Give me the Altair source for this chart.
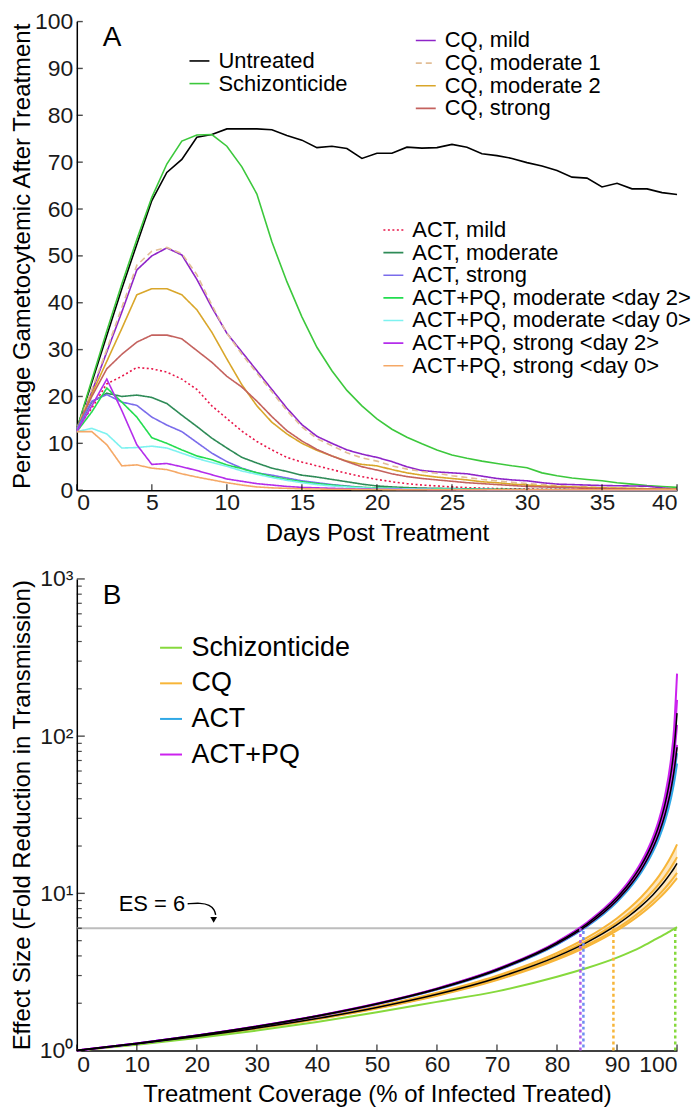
import altair as alt
import pandas as pd

FONT = "Liberation Sans"

# ---------------- Panel A data ----------------
days = list(range(41))
untreated = [13, 23, 33, 43, 52.5, 61.8, 67.8, 70.6, 75.3, 75.9, 77.1, 77.1, 77.1, 76.9, 75.7,
             74.7, 73.1, 73.4, 72.9, 70.8, 71.9, 71.9, 73.2, 73.0, 73.1, 73.8, 73.2, 71.8, 71.4,
             70.8, 69.9, 69.2, 68.2, 66.8, 66.6, 64.7, 65.5, 64.3, 64.3, 63.5, 63.1]
schizonticide = [13, 23.5, 34, 44, 53.5, 62.5, 69.6, 74.5, 75.8, 75.9, 73.4, 69, 63.2, 53, 44.5,
                 37, 30.5, 25.5, 21.3, 18, 15.2, 13.0, 11.3, 9.9, 8.6, 7.5, 6.8, 6.2, 5.7, 5.2,
                 4.8, 3.7, 3.1, 2.6, 2.3, 2.0, 1.6, 1.3, 1.0, 0.8, 0.6]
cq_mild = [13, 21, 29.5, 38, 47, 50, 51.7, 50.2, 45, 39, 33.5, 29.5, 25.5, 21.5, 17.5, 14, 11.5,
           10, 8.6, 7.7, 7.0, 6.1, 5.0, 4.2, 3.9, 3.7, 3.5, 3.0, 2.5, 2.2, 2.0, 1.6, 1.3, 1.2,
           1.1, 1.0, 0.95, 0.9, 0.85, 0.5, 0.2]
cq_mod1 = [13, 21.5, 30, 39, 48, 51, 51.8, 50.5, 46, 39.5, 33.5, 29, 25, 21, 17, 13.5, 11, 9.5,
           8.0, 6.9, 6.2, 5.2, 4.5, 4.0, 3.6, 3.1, 2.7, 2.3, 2.0, 1.7, 1.4, 1.2, 1.0, 0.8, 0.7,
           0.6, 0.5, 0.4, 0.35, 0.3, 0.25]
cq_mod2 = [13, 20.5, 27.5, 34.5, 41.7, 43, 43, 41.7, 38.5, 33.7, 28, 22.5, 18, 14.5, 12, 10, 8.5,
           7.3, 6.2, 5.5, 5.2, 4.4, 3.7, 3.2, 2.8, 2.5, 2.2, 1.8, 1.6, 1.3, 1.1, 0.9, 0.8, 0.7,
           0.6, 0.5, 0.45, 0.4, 0.3, 0.25, 0.2]
cq_strong = [13, 20, 25.9, 29, 31.6, 33.1, 33.1, 32.3, 29.8, 27.3, 24.3, 22, 19, 15.7, 12.7, 10.5,
             8.7, 7.3, 6.1, 5.0, 4.3, 3.5, 2.9, 2.5, 2.2, 1.9, 1.6, 1.4, 1.2, 1.0, 0.8, 0.7, 0.6,
             0.5, 0.4, 0.35, 0.3, 0.25, 0.2, 0.2, 0.2]
act_mild = [13, 17.5, 22.7, 24.3, 26.2, 25.9, 25.2, 23.7, 21.5, 18, 15.3, 12.6, 10.4, 8.6, 7.0,
            6.0, 5.2, 4.4, 3.6, 2.9, 2.3, 1.8, 1.4, 1.1, 0.9, 0.7, 0.55, 0.45, 0.35, 0.3, 0.25,
            0.2, 0.2, 0.15, 0.15, 0.15, 0.1, 0.1, 0.1, 0.1, 0.1]
act_mod = [13, 18.8, 20.7, 20, 20.3, 19.8, 18.5, 16, 13.6, 11.1, 9.0, 7.0, 5.8, 4.7, 4.0, 3.2,
           2.8, 2.3, 1.8, 1.3, 0.9, 0.7, 0.55, 0.45, 0.4, 0.35, 0.3, 0.25, 0.2, 0.2, 0.15, 0.15,
           0.15, 0.1, 0.1, 0.1, 0.1, 0.1, 0.1, 0.1, 0.1]
act_strong = [13, 19, 20.4, 18.8, 18.1, 15.6, 13.9, 12.5, 10.2, 7.9, 6.1, 4.7, 3.7, 3.2, 2.6, 2.0,
              1.6, 1.2, 0.9, 0.6, 0.4, 0.35, 0.3, 0.25, 0.2, 0.2, 0.15, 0.15, 0.1, 0.1, 0.1,
              0.1, 0.1, 0.1, 0.1, 0.1, 0.1, 0.1, 0.1, 0.1, 0.1]
actpq_mod2 = [12.5, 16.7, 21.8, 18.8, 15.6, 11.2, 10.0, 8.6, 7.3, 6.5, 5.4, 4.6, 3.7, 2.9, 2.3,
              1.8, 1.4, 1.1, 0.8, 0.6, 0.5, 0.4, 0.35, 0.3, 0.25, 0.2, 0.2, 0.15, 0.15, 0.1,
              0.1, 0.1, 0.1, 0.1, 0.1, 0.1, 0.1, 0.1, 0.1, 0.1, 0.1]
actpq_mod0 = [12.5, 13.2, 12.0, 9.0, 9.1, 9.4, 9.0, 7.9, 6.8, 5.9, 5.1, 4.1, 3.4, 2.7, 2.1, 1.6,
              1.2, 0.9, 0.7, 0.5, 0.4, 0.35, 0.3, 0.25, 0.2, 0.2, 0.15, 0.15, 0.1, 0.1, 0.1,
              0.1, 0.1, 0.1, 0.1, 0.1, 0.1, 0.1, 0.1, 0.1, 0.1]
actpq_str2 = [12.5, 18, 23.7, 17, 9.7, 5.5, 5.7, 5.0, 4.2, 3.3, 2.4, 1.9, 1.4, 1.1, 0.8, 0.6, 0.5,
              0.4, 0.3, 0.25, 0.2, 0.2, 0.15, 0.15, 0.1, 0.1, 0.1, 0.1, 0.1, 0.1, 0.1, 0.1, 0.1,
              0.1, 0.1, 0.1, 0.1, 0.1, 0.1, 0.1, 0.1]
actpq_str0 = [12.5, 12.5, 9.7, 5.2, 5.4, 4.7, 4.4, 3.5, 2.8, 2.2, 1.6, 1.1, 0.7, 0.5, 0.4, 0.3,
              0.25, 0.2, 0.2, 0.15, 0.15, 0.1, 0.1, 0.1, 0.1, 0.1, 0.1, 0.1, 0.1, 0.1, 0.1, 0.1,
              0.1, 0.1, 0.1, 0.1, 0.1, 0.1, 0.1, 0.1, 0.1]

names_a1 = ["Untreated", "Schizonticide"]
values_a1 = [untreated, schizonticide]
colors_a1 = ["#000000", "#3CC83C"]

names_a2 = ["CQ, mild", "CQ, moderate 1", "CQ, moderate 2", "CQ, strong"]
values_a2 = [cq_mild, cq_mod1, cq_mod2, cq_strong]
colors_a2 = ["#8E24C8", "#E2BE96", "#D9A62A", "#C4625E"]
dash_a2 = [[1, 0], [6, 4], [1, 0], [1, 0]]

names_a3 = ["ACT, mild", "ACT, moderate", "ACT, strong", "ACT+PQ, moderate <day 2>",
            "ACT+PQ, moderate <day 0>", "ACT+PQ, strong <day 2>", "ACT+PQ, strong <day 0>"]
values_a3 = [act_mild, act_mod, act_strong, actpq_mod2, actpq_mod0, actpq_str2, actpq_str0]
colors_a3 = ["#E8174A", "#2E8B57", "#7A6CEB", "#22DD4F", "#7DF2F0", "#B42DEB", "#F5A866"]
dash_a3 = [[2, 2.5], [1, 0], [1, 0], [1, 0], [1, 0], [1, 0], [1, 0]]

a_xticks = [0, 5, 10, 15, 20, 25, 30, 35, 40]
a_yticks = [0, 10, 20, 30, 40, 50, 60, 70, 80, 90, 100]

# ---------------- Panel B data ----------------
coverage = [0, 10, 20, 30, 40, 50, 60, 70, 80, 85, 90, 92, 94, 96, 97, 98, 99, 99.5, 100]
b_schiz = [1, 1.09, 1.20, 1.34, 1.52, 1.75, 2.04, 2.38, 2.95, 3.35, 3.9, 4.2, 4.55, 5.0, 5.25,
           5.5, 5.8, 5.95, 6.1]
b_cq_hi = [1, 1.105, 1.235, 1.399, 1.614, 1.907, 2.330, 2.993, 4.184, 5.223, 6.949, 8.008, 9.447,
           11.52, 12.93, 14.75, 17.16, 18.68, 20.5]
b_cq_2 = [1, 1.104, 1.232, 1.393, 1.604, 1.889, 2.297, 2.931, 4.048, 5.0, 6.538, 7.456, 8.673,
          10.37, 11.49, 12.88, 14.66, 15.74, 17]
b_cq_mean = [1, 1.103, 1.230, 1.390, 1.598, 1.879, 2.279, 2.897, 3.974, 4.882, 6.327, 7.176, 8.289,
             9.810, 10.80, 12.02, 13.54, 14.45, 15.5]
b_cq_3 = [1, 1.102, 1.227, 1.385, 1.588, 1.862, 2.250, 2.842, 3.857, 4.696, 6.0, 6.75, 7.714, 9.0,
          9.818, 10.8, 12.0, 12.71, 13.5]
b_cq_lo = [1, 1.101, 1.225, 1.381, 1.582, 1.852, 2.232, 2.809, 3.788, 4.587, 5.814, 6.51, 7.396,
           8.562, 9.294, 10.16, 11.21, 11.82, 12.5]
b_act_1 = [1, 1.109, 1.245, 1.419, 1.650, 1.971, 2.445, 3.221, 4.718, 6.15, 8.82, 10.67, 13.51,
           18.41, 22.48, 28.9, 40.4, 50.4, 67]
b_act_2 = [1, 1.110, 1.246, 1.421, 1.653, 1.975, 2.453, 3.237, 4.756, 6.215, 8.965, 10.89, 13.88,
           19.12, 23.56, 30.71, 44.07, 56.3, 78]
b_act_mean = [1, 1.110, 1.246, 1.421, 1.654, 1.977, 2.457, 3.244, 4.775, 6.25, 9.043, 11.01, 14.07,
              19.5, 24.15, 31.72, 46.19, 59.84, 85]
b_pq_1 = [1, 1.111, 1.249, 1.426, 1.662, 1.992, 2.485, 3.30, 4.92, 6.52, 9.65, 11.95, 15.7, 22.8,
          29.5, 41.8, 71.6, 111, 250]
b_pq_2 = [1, 1.110, 1.248, 1.425, 1.660, 1.988, 2.478, 3.288, 4.885, 6.45, 9.50, 11.71, 15.26,
          21.9, 28.0, 38.8, 63.2, 92.2, 170]
b_pq_3 = [1, 1.110, 1.247, 1.423, 1.657, 1.983, 2.469, 3.269, 4.836, 6.36, 9.29, 11.39, 14.71,
          20.77, 26.16, 35.3, 54.4, 74.5, 118]
b_pq_4 = [1, 1.110, 1.246, 1.422, 1.654, 1.978, 2.458, 3.247, 4.783, 6.26, 9.07, 11.06, 14.15,
          19.65, 24.4, 32.1, 47.1, 61.3, 88]
b_pq_mean = [1, 1.110, 1.248, 1.424, 1.659, 1.986, 2.473, 3.279, 4.861, 6.407, 9.396, 11.55, 14.99,
             21.34, 27.08, 37.04, 58.58, 82.6, 140]

b_groups = ["Schizonticide", "CQ", "ACT", "ACT+PQ"]
b_colors = ["#86D93C", "#F7B538", "#2FA8E6", "#CC22EE"]
b_colored = [("CQ", "cq_hi", b_cq_hi), ("CQ", "cq_2", b_cq_2), ("CQ", "cq_3", b_cq_3),
             ("CQ", "cq_lo", b_cq_lo), ("Schizonticide", "schiz", b_schiz),
             ("ACT", "act_1", b_act_1), ("ACT", "act_2", b_act_2),
             ("ACT+PQ", "pq_4", b_pq_4), ("ACT+PQ", "pq_3", b_pq_3),
             ("ACT+PQ", "pq_2", b_pq_2), ("ACT+PQ", "pq_1", b_pq_1)]
b_black = [("cq_mean", b_cq_mean), ("act_mean", b_act_mean), ("pq_mean", b_pq_mean)]

# coverage where each group reaches ES = 6
es_level = 6
cross_pq = 83.9
cross_act = 84.4
cross_cq = 89.4
cross_schiz = 99.7

arrow_x = [18.47, 20.63, 22.13, 22.96, 23.13]
arrow_y = [8.58, 8.70, 8.45, 7.86, 7.30]
arrow_tip_x = [22.8]
arrow_tip_y = [6.79]

b_xticks = [0, 10, 20, 30, 40, 50, 60, 70, 80, 90, 100]
b_major = [1, 10, 100, 1000]
b_minor = [2, 3, 4, 5, 6, 7, 8, 9, 20, 30, 40, 50, 60, 70, 80, 90,
           200, 300, 400, 500, 600, 700, 800, 900]

# ---------------- Build panel A ----------------
WA, HA = 602, 470
WB, HB = 602, 473


def long_df(names, values):
    rows = []
    for n, vals in zip(names, values):
        for d, v in zip(days, vals):
            rows.append({"day": d, "pct": v, "name": n})
    return pd.DataFrame(rows)


xsA = alt.Scale(domain=[0, 40], nice=False)
ysA = alt.Scale(domain=[0, 100], nice=False)

axA_x = alt.Axis(values=a_xticks, title="Days Post Treatment", ticks=False, tickSize=0,
                 labelPadding=1, titlePadding=7, grid=False)
axA_y = alt.Axis(values=a_yticks, title="Percentage Gametocytemic After Treatment",
                 ticks=False, tickSize=0, labelPadding=4, titlePadding=2, grid=False,
                 minExtent=40, maxExtent=40)


def leg_a(x, y):
    return alt.Legend(title=None, orient="none", legendX=x, legendY=y, direction="vertical",
                      symbolType="stroke", symbolSize=400, symbolStrokeWidth=1.6,
                      labelFontSize=22, labelFont=FONT, labelColor="black", labelOffset=8,
                      rowPadding=0.7, labelLimit=400, padding=0)


def xa(field):
    return alt.X(field, scale=xsA, axis=axA_x)


def ya(field):
    return alt.Y(field, scale=ysA, axis=axA_y)


a1 = alt.Chart(long_df(names_a1, values_a1)).mark_line(strokeWidth=1.6).encode(
    x=xa("day:Q"), y=ya("pct:Q"),
    color=alt.Color("name:N", scale=alt.Scale(domain=names_a1, range=colors_a1),
                    legend=leg_a(112, 28.5)),
)

leg2 = leg_a(339, 8)
a2 = alt.Chart(long_df(names_a2, values_a2)).mark_line(strokeWidth=1.6).encode(
    x=xa("day:Q"), y=ya("pct:Q"),
    color=alt.Color("name:N", scale=alt.Scale(domain=names_a2, range=colors_a2), legend=leg2),
    strokeDash=alt.StrokeDash("name:N", scale=alt.Scale(domain=names_a2, range=dash_a2),
                              legend=leg2),
)

leg3 = leg_a(306.5, 198)
a3 = alt.Chart(long_df(names_a3, values_a3)).mark_line(strokeWidth=1.6).encode(
    x=xa("day:Q"), y=ya("pct:Q"),
    color=alt.Color("name:N", scale=alt.Scale(domain=names_a3, range=colors_a3), legend=leg3),
    strokeDash=alt.StrokeDash("name:N", scale=alt.Scale(domain=names_a3, range=dash_a3),
                              legend=leg3),
)

ticks_ax = alt.Chart(pd.DataFrame({"day": a_xticks})).mark_tick(
    orient="vertical", size=6, thickness=1.4, color="black").encode(
    x=xa("day:Q"), y=alt.value(HA - 3))
ticks_ay = alt.Chart(pd.DataFrame({"pct": a_yticks})).mark_tick(
    orient="horizontal", size=6, thickness=1.4, color="black").encode(
    y=ya("pct:Q"), x=alt.value(3))

letter_a = alt.Chart(pd.DataFrame({"t": ["A"]})).mark_text(
    font=FONT, fontSize=28, align="left", baseline="alphabetic", color="black").encode(
    text="t:N", x=alt.value(26), y=alt.value(24.5))

panel_a = alt.layer(a1, a2, a3, ticks_ax, ticks_ay, letter_a).resolve_scale(
    color="independent", strokeDash="independent").properties(width=WA, height=HA)

# ---------------- Build panel B ----------------
xsB = alt.Scale(domain=[0, 100], nice=False)
ysB = alt.Scale(type="log", domain=[1, 1000], nice=False)

axB_x = alt.Axis(values=b_xticks, title="Treatment Coverage (% of Infected Treated)",
                 ticks=False, tickSize=0, labelPadding=3.5, titlePadding=5.5, grid=False)
axB_y = alt.Axis(values=b_major, title="Effect Size (Fold Reduction in Transmission)",
                 ticks=False, tickSize=0, labelPadding=4, titlePadding=2, grid=False,
                 minExtent=40, maxExtent=40,
                 labelExpr="'10' + ['⁰','¹','²','³'][round(log(datum.value)/LN10)]")


def xb(field):
    return alt.X(field, scale=xsB, axis=axB_x)


def yb(field):
    return alt.Y(field, scale=ysB, axis=axB_y)


rows = []
for g, cid, vals in b_colored:
    for c, v in zip(coverage, vals):
        rows.append({"cov": c, "es": v, "group": g, "curve": cid})
df_col = pd.DataFrame(rows)

rows = []
for cid, vals in b_black:
    for c, v in zip(coverage, vals):
        rows.append({"cov": c, "es": v, "curve": cid})
df_black = pd.DataFrame(rows)

df_band = pd.DataFrame({"cov": coverage, "es": b_cq_lo, "hi": b_cq_hi})

es_line = alt.Chart(pd.DataFrame({"es": [es_level]})).mark_rule(
    color="#BDBDBD", strokeWidth=2).encode(y=yb("es:Q"))

band = alt.Chart(df_band).mark_area(color="#FBD38C", opacity=0.55,
                                    interpolate="monotone").encode(
    x=xb("cov:Q"), y=yb("es:Q"), y2="hi:Q")

colored = alt.Chart(df_col).mark_line(strokeWidth=2, interpolate="monotone").encode(
    x=xb("cov:Q"), y=yb("es:Q"),
    detail="curve:N",
    color=alt.Color("group:N", scale=alt.Scale(domain=b_groups, range=b_colors),
                    legend=alt.Legend(title=None, orient="none", legendX=81, legendY=55.5,
                                      direction="vertical", symbolType="stroke",
                                      symbolSize=484, symbolStrokeWidth=2,
                                      labelFontSize=27, labelFont=FONT, labelColor="black",
                                      labelOffset=7, rowPadding=7.7, labelLimit=400,
                                      padding=0)),
)

black = alt.Chart(df_black).mark_line(strokeWidth=1.5, color="black",
                                      interpolate="monotone").encode(
    x=xb("cov:Q"), y=yb("es:Q"), detail="curve:N")


def vrule(xv, color, offset=0):
    return alt.Chart(pd.DataFrame({"cov": [xv], "es": [1], "y2": [es_level]})).mark_rule(
        color=color, strokeWidth=2.5, strokeDash=[3, 3], strokeDashOffset=offset).encode(
        x=xb("cov:Q"), y=yb("es:Q"), y2="y2:Q")


r_pq = vrule(cross_pq, "#B05CE8")
r_act = vrule(cross_act, "#6E8EF2", 3)
r_cq = vrule(cross_cq, "#F7B538")
r_schiz = vrule(cross_schiz, "#86D93C")

es_text = alt.Chart(pd.DataFrame({"t": ["ES = 6"]})).mark_text(
    font=FONT, fontSize=22, align="left", baseline="alphabetic", color="black").encode(
    text="t:N", x=alt.value(42), y=alt.value(333))

arrow = alt.Chart(pd.DataFrame({"cov": arrow_x, "es": arrow_y})).mark_line(
    color="black", strokeWidth=1.4, interpolate="basis").encode(
    x=xb("cov:Q"), y=yb("es:Q"))
arrow_head = alt.Chart(pd.DataFrame({"cov": arrow_tip_x, "es": arrow_tip_y})).mark_point(
    shape="triangle-down", filled=True, size=45, color="black", opacity=1).encode(
    x=xb("cov:Q"), y=yb("es:Q"))

ticks_bx = alt.Chart(pd.DataFrame({"cov": b_xticks})).mark_tick(
    orient="vertical", size=6, thickness=1.4, color="black").encode(
    x=xb("cov:Q"), y=alt.value(HB - 3))
ticks_by = alt.Chart(pd.DataFrame({"es": b_major})).mark_tick(
    orient="horizontal", size=8, thickness=1.4, color="black").encode(
    y=yb("es:Q"), x=alt.value(4))
ticks_bm = alt.Chart(pd.DataFrame({"es": b_minor})).mark_tick(
    orient="horizontal", size=5, thickness=1.2, color="black").encode(
    y=yb("es:Q"), x=alt.value(2.5))

letter_b = alt.Chart(pd.DataFrame({"t": ["B"]})).mark_text(
    font=FONT, fontSize=28, align="left", baseline="alphabetic", color="black").encode(
    text="t:N", x=alt.value(26), y=alt.value(25))

panel_b = alt.layer(es_line, band, colored, black, r_pq, r_act, r_cq, r_schiz, es_text, arrow,
                    arrow_head, ticks_bx, ticks_by, ticks_bm, letter_b).properties(
    width=WB, height=HB)

chart = alt.vconcat(panel_a, panel_b, spacing=21).resolve_scale(
    color="independent", strokeDash="independent").properties(
    padding={"left": 2, "top": 0, "right": 0, "bottom": 0}
).configure_view(stroke="transparent").configure_axis(
    labelFont=FONT, titleFont=FONT, labelFontSize=23, titleFontSize=24,
    titleFontWeight="normal", labelColor="#1a1a1a", titleColor="black",
    domainColor="black", domainWidth=1.5
)

chart.save("out.html", embed_options={"renderer": "svg", "actions": False})
